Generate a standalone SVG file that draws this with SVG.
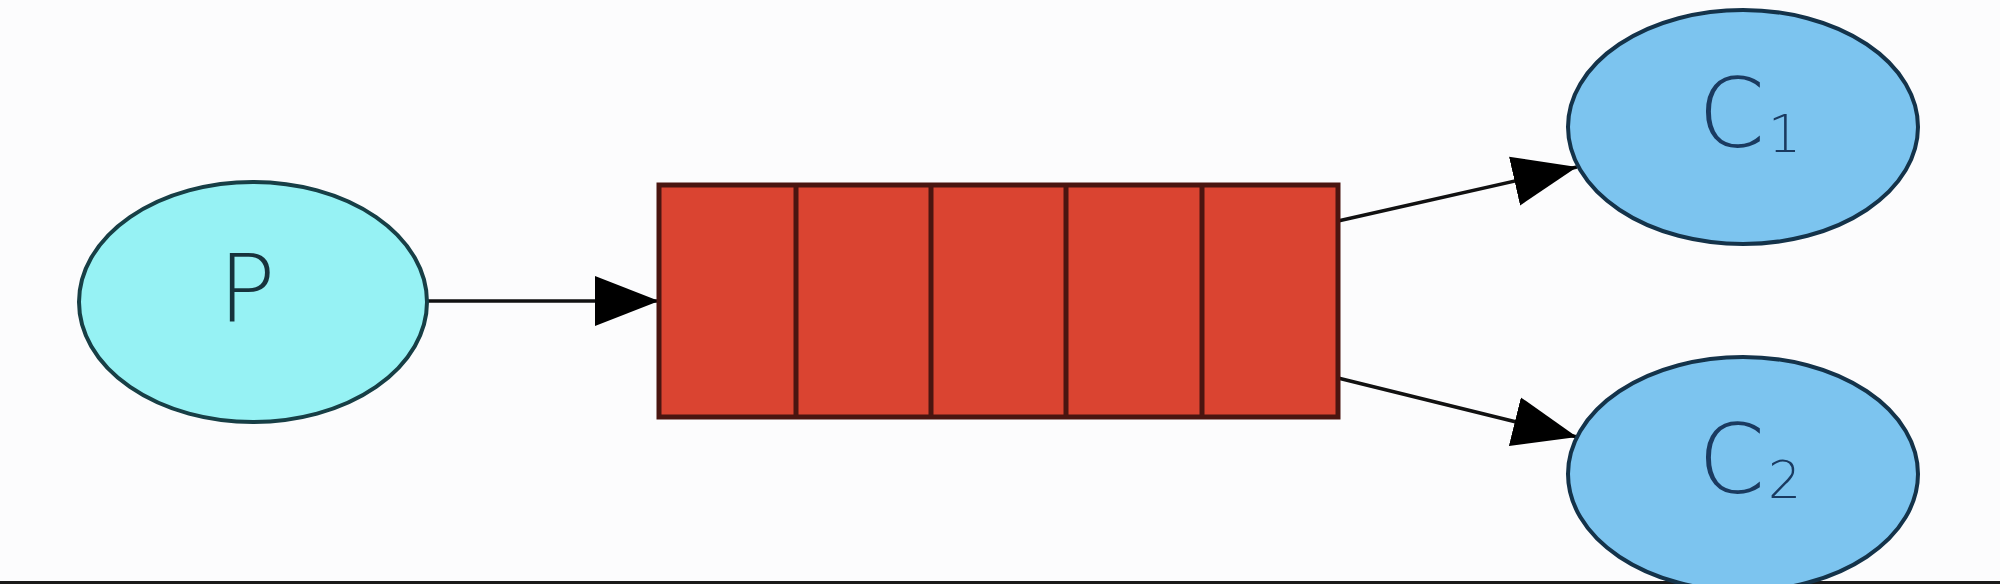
<svg xmlns="http://www.w3.org/2000/svg" width="2000" height="584" viewBox="0 0 2000 584">
  <style>
    .lbl { font-family: "DejaVu Sans", "Liberation Sans", sans-serif; font-weight: 200; }
    .edge { stroke: #111; stroke-width: 3.5; fill: none; marker-end: url(#arrow); }
    .cell { fill: #da4431; stroke: #4a1510; stroke-width: 5; }
    .div { stroke: #4a1510; stroke-width: 5; }
    .cons { fill: #7cc4ef; stroke: #14334a; stroke-width: 4; }
  </style>
  <defs>
    <marker id="arrow" markerUnits="userSpaceOnUse" markerWidth="66" markerHeight="52" refX="64" refY="26" orient="auto">
      <path d="M0,1 L64,26 L0,51 Z" fill="#000"/>
    </marker>
  </defs>
  <rect x="0" y="0" width="2000" height="584" fill="#fcfcfd"/>
  <rect x="0" y="581" width="2000" height="3" fill="#1a1a1a"/>

  <g id="connectors">
    <line class="edge" x1="428" y1="301" x2="659" y2="301"/>
    <line class="edge" x1="1338" y1="221" x2="1577" y2="167"/>
    <line class="edge" x1="1338" y1="378" x2="1577" y2="437"/>
  </g>

  <g id="P">
    <ellipse cx="253" cy="302" rx="174" ry="120" fill="#96f2f4" stroke="#173f46" stroke-width="4"/>
    <text class="lbl" x="247" y="322" font-size="95" text-anchor="middle" fill="#17333c">P</text>
  </g>

  <g id="queue">
    <rect class="cell" x="659" y="185" width="679" height="232"/>
    <line class="div" x1="796" y1="185" x2="796" y2="417"/>
    <line class="div" x1="931" y1="185" x2="931" y2="417"/>
    <line class="div" x1="1066" y1="185" x2="1066" y2="417"/>
    <line class="div" x1="1202" y1="185" x2="1202" y2="417"/>
  </g>

  <g id="C1">
    <ellipse class="cons" cx="1743" cy="127" rx="175" ry="117"/>
    <text class="lbl" x="1698" y="147" font-size="96" fill="#1a3a60">C</text>
    <text class="lbl" x="1768" y="152" font-size="52" fill="#1a3a60">1</text>
  </g>

  <g id="C2">
    <ellipse class="cons" cx="1743" cy="474" rx="175" ry="117"/>
    <text class="lbl" x="1698" y="493" font-size="96" fill="#1a3a60">C</text>
    <text class="lbl" x="1768" y="498" font-size="52" fill="#1a3a60">2</text>
  </g>
</svg>
